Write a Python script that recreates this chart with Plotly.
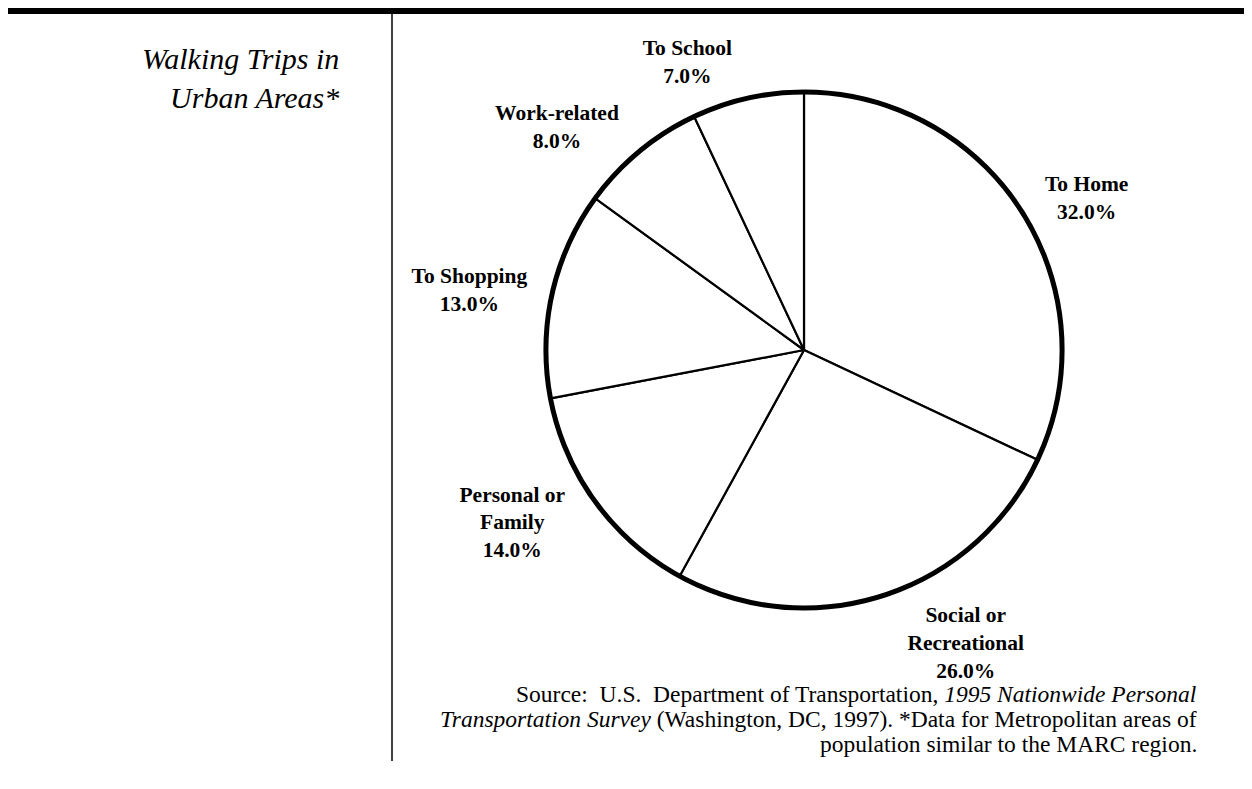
import plotly.graph_objects as go

categories = ["To Home", "Social or<br>Recreational", "Personal or<br>Family",
              "To Shopping", "Work-related", "To School"]
shares = [32.0, 26.0, 14.0, 13.0, 8.0, 7.0]
title_text = "<i>Walking Trips in<br>Urban Areas*</i>"
source_lines = [
    "Source:  U.S.  Department of Transportation, <i>1995 Nationwide Personal</i>",
    "<i>Transportation Survey</i> (Washington, DC, 1997). *Data for Metropolitan areas of",
    "population similar to the MARC region.",
]

W, H = 1252, 789
SERIF = "Liberation Serif, Times New Roman, serif"
cx, cy, r = 796, 342, 258        # pie centre / radius in figure pixels
r_lab = r + 12                   # radius of the (transparent) label ring


def dom(rad):
    return dict(x=[(cx - rad) / W, (cx + rad) / W],
                y=[(H - cy - rad) / H, (H - cy + rad) / H])


fig = go.Figure()
# visible slices
fig.add_trace(go.Pie(
    labels=categories, values=shares, sort=False, direction="clockwise", rotation=0,
    marker=dict(colors=["white"] * len(shares), line=dict(color="black", width=2.2)),
    textinfo="none", showlegend=False, hovertemplate="%{label}: %{value:.1f}%<extra></extra>",
    domain=dom(r),
))
# thick outer rim
fig.add_trace(go.Pie(
    values=[1], sort=False, marker=dict(colors=["rgba(0,0,0,0)"], line=dict(color="black", width=5)),
    textinfo="none", hoverinfo="skip", showlegend=False, domain=dom(r),
))
# outside labels, placed by plotly on a slightly larger ring
fig.add_trace(go.Pie(
    labels=categories, values=shares, sort=False, direction="clockwise", rotation=0,
    marker=dict(colors=["rgba(0,0,0,0)"] * len(shares), line=dict(width=0)),
    texttemplate="<b>%{label}<br>%{value:.1f}%</b>", textposition="outside",
    textfont=dict(family=SERIF, size=21.5, color="black"),
    showlegend=False, hoverinfo="skip", domain=dom(r_lab), automargin=False,
))

fig.add_shape(type="line", xref="paper", yref="paper", x0=0, x1=1, y0=1 - 3 / H, y1=1 - 3 / H,
              line=dict(color="black", width=6))
fig.add_shape(type="line", xref="paper", yref="paper", x0=384 / W, x1=384 / W, y0=1 - 6 / H, y1=1 - 753 / H,
              line=dict(color="black", width=1.5))

tsize = 30
fig.add_annotation(xref="paper", yref="paper", x=333 / W, y=1 - 70 / H,
                   xanchor="right", yanchor="middle", align="right", showarrow=False, text=title_text,
                   font=dict(family=SERIF, size=tsize, color="black"))

ssize = 23.5
for i, t in enumerate(source_lines):
    base = 692 + 25 * i
    fig.add_annotation(xref="paper", yref="paper", x=1191 / W, y=1 - (base - 0.26 * ssize) / H,
                       xanchor="right", yanchor="middle", align="right", showarrow=False, text=t,
                       font=dict(family=SERIF, size=ssize, color="black"))

fig.update_layout(width=W, height=H, margin=dict(l=0, r=0, t=0, b=0),
                  paper_bgcolor="white", plot_bgcolor="white")
fig.write_html("out.html")
